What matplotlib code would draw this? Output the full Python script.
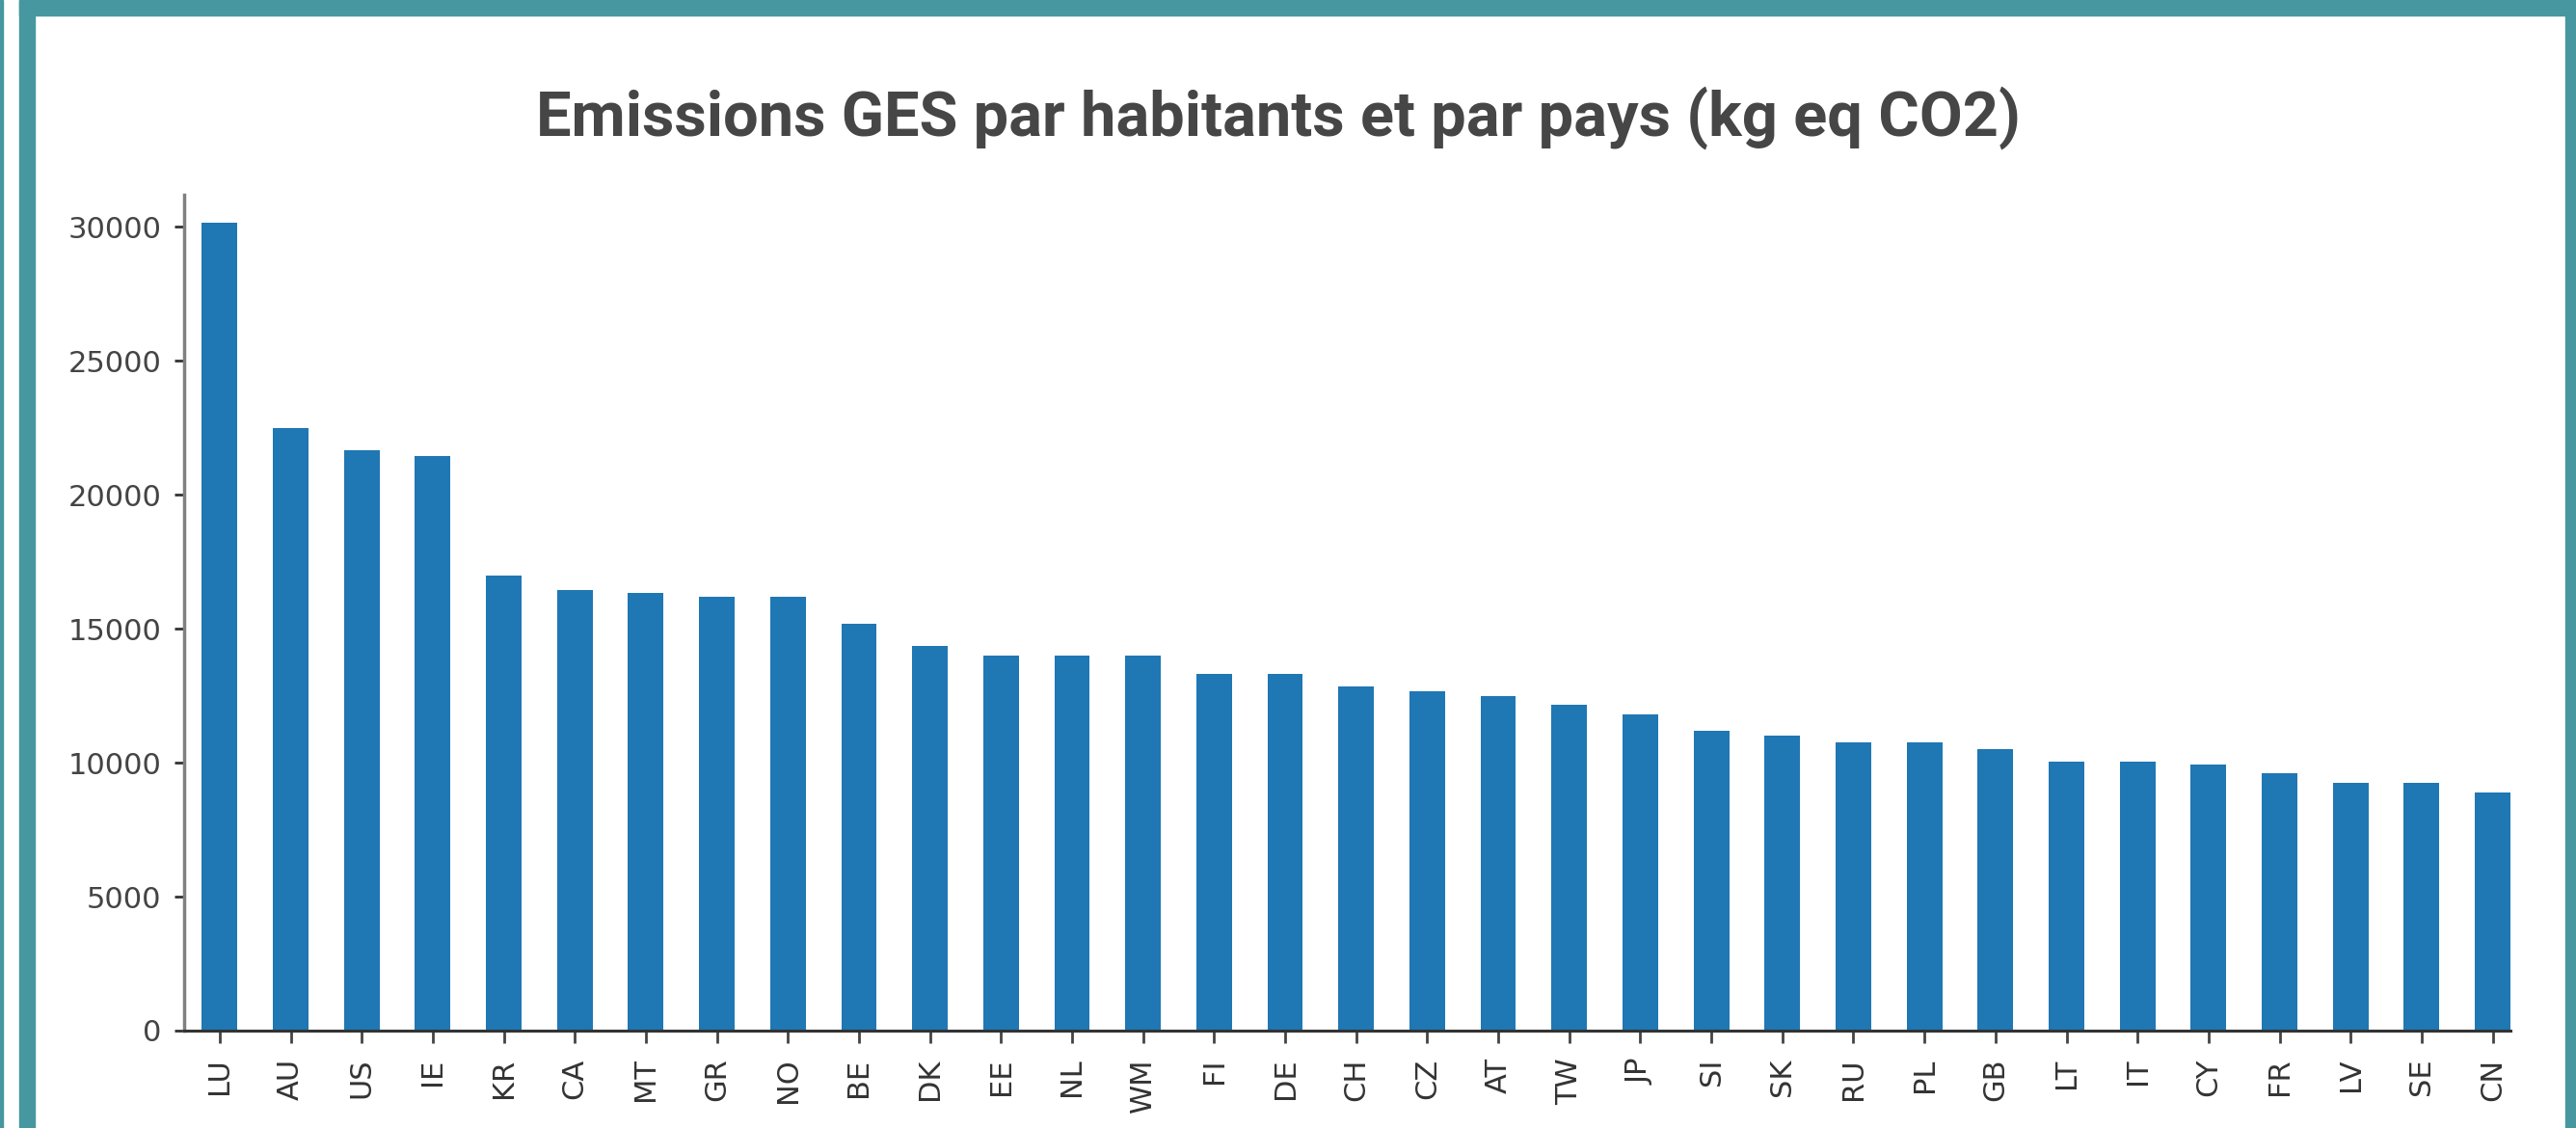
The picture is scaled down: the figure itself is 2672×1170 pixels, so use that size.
import matplotlib
matplotlib.use("Agg")
import matplotlib.pyplot as plt
from matplotlib.patches import Rectangle

countries = ["LU", "AU", "US", "IE", "KR", "CA", "MT", "GR", "NO", "BE", "DK",
             "EE", "NL", "WM", "FI", "DE", "CH", "CZ", "AT", "TW", "JP", "SI",
             "SK", "RU", "PL", "GB", "LT", "IT", "CY", "FR", "LV", "SE", "CN"]
emissions = [30150, 22500, 21650, 21450, 17000, 16450, 16350, 16200, 16200, 15200, 14350,
             14000, 14000, 14000, 13300, 13300, 12850, 12650, 12500, 12150, 11800, 11200,
             11000, 10750, 10750, 10500, 10050, 10050, 9950, 9600, 9250, 9250, 8900]
yticks = [0, 5000, 10000, 15000, 20000, 25000, 30000]
title = "Emissions GES par habitants et par pays (kg eq CO2)"

W, H = 2672, 1170
fig = plt.figure(figsize=(W / 100, H / 100), dpi=100)
fig.patch.set_facecolor("white")

teal = "#46979f"
# frame decorations (screenshot container)
fig.patches.append(Rectangle((0, 0), 3 / W, 1, transform=fig.transFigure, color=teal, zorder=0))
fig.patches.append(Rectangle((20 / W, 0), 16 / W, 1, transform=fig.transFigure, color=teal, zorder=0))
fig.patches.append(Rectangle((20 / W, 1 - 16 / H), (W - 20) / W, 16 / H, transform=fig.transFigure, color=teal, zorder=0))
fig.patches.append(Rectangle((2661 / W, 0), 11 / W, 1, transform=fig.transFigure, color=teal, zorder=0))

# axes placement: x=-0.5 at 191px, x=32.25 at 2604px; y=0 at 1069px, top at 202px
left, right = 191, 2604
bottom, top = 1069, 202
ax = fig.add_axes([left / W, 1 - bottom / H, (right - left) / W, (bottom - top) / H])

x = list(range(len(countries)))
ax.bar(x, emissions, width=0.5, color="#1f77b4")
ax.set_xlim(-0.5, 32.25)
ax.set_ylim(0, 31200)
ax.set_xticks(x)
ax.set_xticklabels(countries, rotation=90, fontsize=22, color="#333333", family="DejaVu Sans")
ax.set_yticks(yticks)
ax.set_yticklabels([str(v) for v in yticks], fontsize=22, color="#444444", family="DejaVu Sans")
ax.tick_params(axis="y", length=7, width=2, color="#333333", pad=10)
ax.tick_params(axis="x", length=9.5, width=2, color="#444444", pad=11)

for s in ["top", "right"]:
    ax.spines[s].set_visible(False)
ax.spines["left"].set_color("#808080")
ax.spines["left"].set_linewidth(2.5)
ax.spines["bottom"].set_color("#333333")
ax.spines["bottom"].set_linewidth(2.2)

fig.text(1326 / W, 1 - 141 / H, title, ha="center", va="baseline",
         fontsize=46.8, fontweight="bold", color="#464646", family=["Roboto", "DejaVu Sans"])

fig.savefig("out.png", dpi=100)
